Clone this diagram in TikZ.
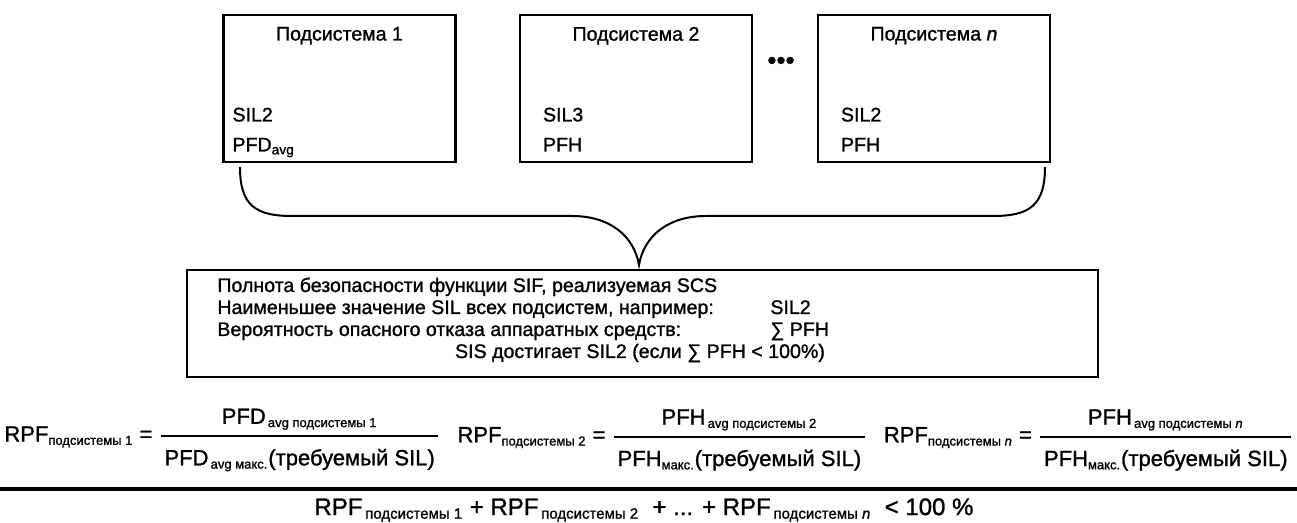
\documentclass[tikz,border=0pt]{standalone}
\usepackage{amsmath}
\usepackage{fontspec}
\setmainfont{Liberation Sans}[FakeBold=1.2]
\DeclareMathSizes{11}{11}{6.5}{5}
\DeclareMathSizes{12}{12}{7.5}{6}
\usetikzlibrary{positioning, calc}

\begin{document}
\begin{tikzpicture}[
  x=0.5pt, y=-0.5pt,
  subbox/.style = {rectangle, draw=black, line width=1.4pt,
                   minimum width=116pt, minimum height=73.5pt, inner sep=0pt},
  sifbox/.style = {rectangle, draw=black, line width=1.4pt,
                   minimum width=455.5pt, minimum height=53.5pt, inner sep=0pt},
  lbl/.style    = {font=\fontsize{9.8}{11}\selectfont, inner sep=0pt},
  baselbl/.style = {lbl, anchor=base west},
  formula/.style = {font=\fontsize{11}{13}\selectfont, inner sep=0pt},
  brace/.style  = {line width=1pt},
  rule/.style   = {line width=1.6pt}
]
\useasboundingbox (0,0) rectangle (1297,523);

% subsystems
\node[subbox] (sub1) at (339.5,88.5) {};
\node[subbox] (sub2) at (636,88.5) {};
\node[subbox] (subn) at (934,88.5) {};
\node[lbl, font=\fontsize{13}{13}\selectfont] (dots) at (781,63) {•••};

\node[lbl, below=6.5pt of sub1.north] (t1) {Подсистема 1};
\node[lbl, below=6.5pt of sub2.north] (t2) {Подсистема 2};
\node[lbl, below=6.5pt of subn.north] (tn) {Подсистема \textit{n}};

\node[baselbl] (pfd1) at ([xshift=5pt, yshift=6pt]sub1.south west) {$\text{PFD}_{\text{avg}}$};
\node[baselbl] (sil1) at ([yshift=15pt]pfd1.base west) {SIL2};
\node[baselbl] (pfh2) at ([xshift=12pt, yshift=6pt]sub2.south west) {PFH};
\node[baselbl] (sil2) at ([yshift=15pt]pfh2.base west) {SIL3};
\node[baselbl] (pfhn) at ([xshift=12pt, yshift=6pt]subn.south west) {PFH};
\node[baselbl] (siln) at ([yshift=15pt]pfhn.base west) {SIL2};

% brace
\coordinate (brl) at (240,167);
\coordinate (brr) at (1045,167);
\coordinate (tip) at (639,265);
\draw[brace] (brl) .. controls (240,205) and (255,216) .. (292,216) -- (572,216)
  .. controls (610,216) and (634,236) .. (tip)
  .. controls (644,236) and (668,216) .. (706,216) -- (993,216)
  .. controls (1030,216) and (1045,205) .. (brr);

% SIF box
\node[sifbox] (sif) at (642.5,323.5) {};
\node[baselbl] (r1) at (217,292) {Полнота безопасности функции SIF, реализуемая SCS};
\node[baselbl] (r2) at ([yshift=-11pt]r1.base west) {Наименьшее значение SIL всех подсистем, например:};
\node[baselbl] (r3) at ([yshift=-11pt]r2.base west) {Вероятность опасного отказа аппаратных средств:};
\node[baselbl] (v2) at (770,314) {SIL2};
\node[baselbl] (v3) at ([yshift=-11pt]v2.base west) {∑ PFH};
\node[lbl, anchor=base] (r4) at (640,358) {SIS достигает SIL2 (если ∑ PFH < 100\%)};

% RPF formulas
\node[formula, anchor=west] (rpf1) at (4,440)
  {$\text{RPF}_{\text{подсистемы 1}}\text{ = }\genfrac{}{}{0.75pt}{0}
   {\rule[-3.5pt]{0pt}{0pt}\,\text{PFD}_{\text{\,avg подсистемы 1}}\,}
   {\rule{0pt}{12pt}\,\text{PFD}_{\text{\,avg макс.}}\text{(требуемый SIL)}\,}$};
\node[formula, anchor=east] (rpfn) at (1294,440)
  {$\text{RPF}_{\text{подсистемы \textit{n}}}\text{ = }\genfrac{}{}{0.75pt}{0}
   {\rule[-3.5pt]{0pt}{0pt}\,\text{PFH}_{\text{\,avg подсистемы \textit{n}}}\,}
   {\rule{0pt}{12pt}\,\text{PFH}_{\text{макс.}}\text{(требуемый SIL)}\,}$};
\node[formula] (rpf2) at ($(rpf1.east)!0.5!(rpfn.west)$)
  {$\text{RPF}_{\text{подсистемы 2}}\text{ = }\genfrac{}{}{0.75pt}{0}
   {\rule[-3.5pt]{0pt}{0pt}\,\text{PFH}_{\text{\,avg подсистемы 2}}\,}
   {\rule{0pt}{12pt}\,\text{PFH}_{\text{макс.}}\text{(требуемый SIL)}\,}$};

\coordinate (rl) at (0,489);
\coordinate (rr) at (1297,489);
\draw[rule] (rl) -- (rr);

\node[formula, font=\fontsize{12}{14}\selectfont] (total) at (644,510)
  {$\text{RPF}_{\,\text{подсистемы 1}}\text{ + RPF}_{\,\text{подсистемы 2}}
   \text{\ \ + ... + RPF}_{\,\text{подсистемы \textit{n}}}\text{\ \ < 100 \%}$};

\end{tikzpicture}
\end{document}
